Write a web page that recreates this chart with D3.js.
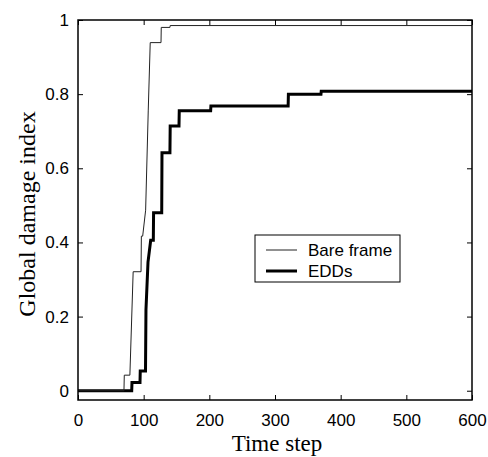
<!DOCTYPE html>
<html>
<head>
<meta charset="utf-8">
<script src="https://cdn.jsdelivr.net/npm/d3@7"></script>
<style>
  body { margin: 0; background: #fff; }
</style>
</head>
<body>
<div id="chart"></div>
<script>
  // Bare frame: corner points of the step curve (time step, damage index)
  const bareTime   = [0, 70, 70.5, 79, 84, 96, 96.5, 98.5, 103, 107, 110, 126.4, 126.8, 140, 140.4, 600];
  const bareDamage = [0, 0, 0.042, 0.042, 0.321, 0.321, 0.417, 0.417, 0.487, 0.757, 0.939, 0.939, 0.980, 0.980, 0.985, 0.985];

  // EDDs: corner points of the step curve
  const eddTime   = [0, 81.8, 82.2, 94.4, 94.8, 102.8, 103.5, 106.6, 110.7, 114.7, 115.1, 127.5, 127.9, 140, 140.4, 153.8, 154.2, 202, 202.4, 320, 320.4, 370, 370.4, 600];
  const eddDamage = [0, 0, 0.022, 0.022, 0.053, 0.053, 0.218, 0.347, 0.406, 0.406, 0.48, 0.48, 0.642, 0.642, 0.714, 0.714, 0.755, 0.755, 0.768, 0.768, 0.80, 0.80, 0.808, 0.808];

  const xTicks = [0, 100, 200, 300, 400, 500, 600];
  const yTicks = [0, 0.2, 0.4, 0.6, 0.8, 1];
  const seriesNames = ["Bare frame", "EDDs"];

  const width = 488;
  const height = 457;
  const margin = { top: 20, right: 16, bottom: 57, left: 78 };
  const plotW = width - margin.left - margin.right;
  const plotH = height - margin.top - margin.bottom;

  const svg = d3.select("#chart")
    .append("svg")
    .attr("width", width)
    .attr("height", height);

  const g = svg.append("g")
    .attr("transform", `translate(${margin.left},${margin.top})`);

  const x = d3.scaleLinear().domain([0, 600]).range([0, plotW]);
  const y = d3.scaleLinear().domain([-0.025, 1]).range([plotH, 0]);

  const tickFont = "'Liberation Sans', Arial, Helvetica, sans-serif";
  const labelFont = "'Liberation Serif', 'Times New Roman', serif";

  // axes with inward ticks on all four sides
  const styleAxis = sel => {
    sel.select(".domain").remove();
    sel.selectAll(".tick line").attr("stroke", "#000");
    sel.selectAll(".tick text")
      .attr("font-family", tickFont)
      .attr("font-size", "17px")
      .attr("fill", "#000");
  };

  g.append("g")
    .attr("transform", `translate(0,${plotH})`)
    .call(d3.axisBottom(x).tickValues(xTicks).tickSize(-5).tickPadding(14).tickFormat(d3.format("d")))
    .call(styleAxis);

  g.append("g")
    .call(d3.axisTop(x).tickValues(xTicks).tickSize(-5).tickFormat(""))
    .call(styleAxis);

  g.append("g")
    .call(d3.axisLeft(y).tickValues(yTicks).tickSize(-5).tickPadding(9).tickFormat(d => d === 0 || d === 1 ? d3.format("d")(d) : d3.format(".1f")(d)))
    .call(styleAxis);

  g.append("g")
    .attr("transform", `translate(${plotW},0)`)
    .call(d3.axisRight(y).tickValues(yTicks).tickSize(-5).tickFormat(""))
    .call(styleAxis);

  // curves
  const clip = svg.append("defs").append("clipPath").attr("id", "plotclip");
  clip.append("rect").attr("width", plotW).attr("height", plotH);

  const line = d3.line()
    .x(d => x(d[0]))
    .y(d => y(d[1]));

  const plot = g.append("g").attr("clip-path", "url(#plotclip)");

  plot.append("path")
    .datum(eddTime.map((t, i) => [t, eddDamage[i]]))
    .attr("fill", "none")
    .attr("stroke", "#000")
    .attr("stroke-width", 3)
    .attr("stroke-linejoin", "miter")
    .attr("d", line);

  plot.append("path")
    .datum(bareTime.map((t, i) => [t, bareDamage[i]]))
    .attr("fill", "none")
    .attr("stroke", "#222")
    .attr("stroke-width", 1)
    .attr("d", line);

  // frame
  g.append("rect")
    .attr("width", plotW)
    .attr("height", plotH)
    .attr("fill", "none")
    .attr("stroke", "#000")
    .attr("stroke-width", 1.5);

  // axis titles
  svg.append("text")
    .attr("x", margin.left + plotW / 2 + 2)
    .attr("y", 451)
    .attr("text-anchor", "middle")
    .attr("font-family", labelFont)
    .attr("font-size", "23px")
    .text("Time step");

  svg.append("text")
    .attr("transform", `translate(35,${margin.top + plotH / 2 + 4}) rotate(-90)`)
    .attr("text-anchor", "middle")
    .attr("font-family", labelFont)
    .attr("font-size", "24px")
    .text("Global damage index");

  // legend
  const legend = svg.append("g").attr("transform", "translate(255,235)");
  legend.append("rect")
    .attr("width", 145)
    .attr("height", 47)
    .attr("fill", "#fff")
    .attr("stroke", "#000")
    .attr("stroke-width", 1);

  const legendWidths = [1, 3];
  const legendColors = ["#222", "#000"];
  seriesNames.forEach((name, i) => {
    const ly = 15 + i * 21;
    legend.append("line")
      .attr("x1", 11).attr("x2", 42)
      .attr("y1", ly).attr("y2", ly)
      .attr("stroke", legendColors[i])
      .attr("stroke-width", legendWidths[i]);
    legend.append("text")
      .attr("x", 53)
      .attr("y", ly)
      .attr("dy", "0.35em")
      .attr("font-family", tickFont)
      .attr("font-size", "17px")
      .text(name);
  });
</script>
</body>
</html>
